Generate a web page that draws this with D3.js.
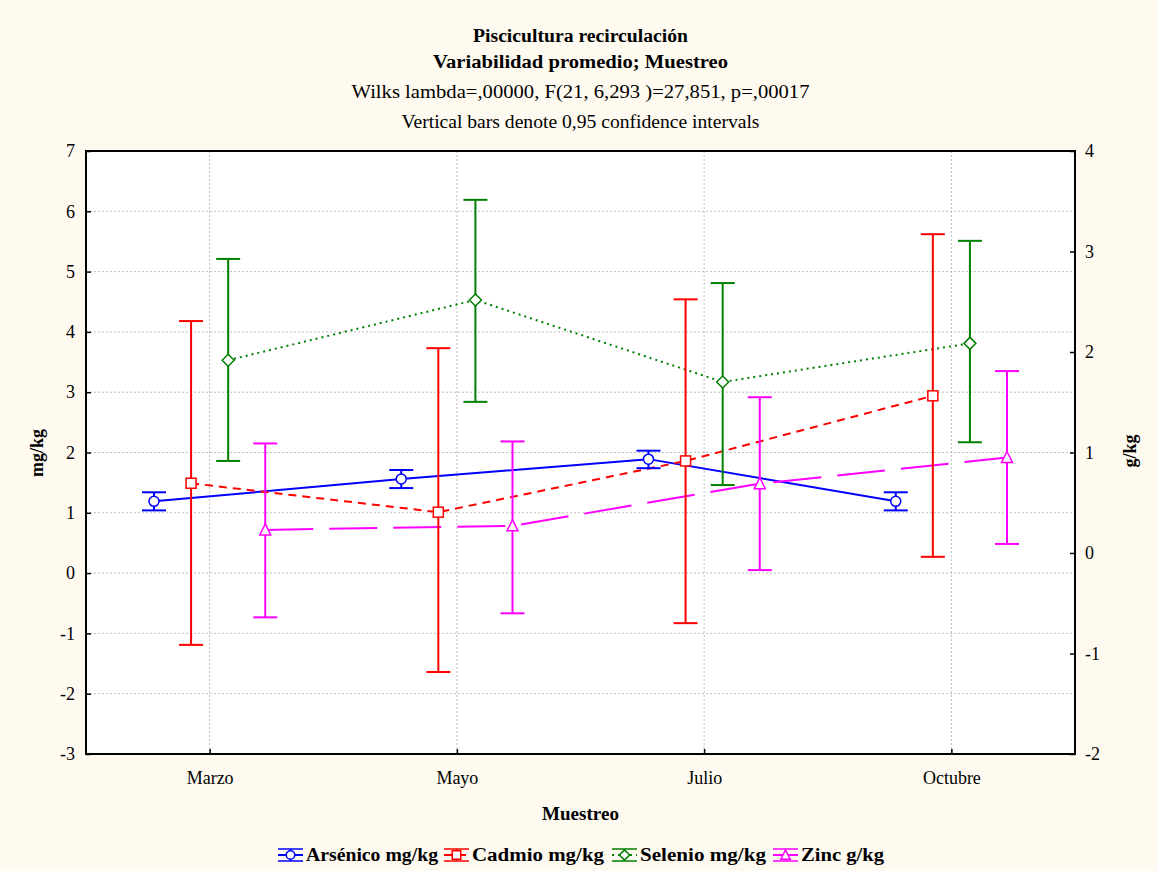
<!DOCTYPE html>
<html>
<head>
<meta charset="utf-8">
<script src="https://cdn.jsdelivr.net/npm/d3@7"></script>
<style>
  html, body { margin: 0; padding: 0; background: #FEFAF0; }
  svg { display: block; }
  text { font-family: "Liberation Serif", "Times New Roman", serif; fill: #000; }
</style>
</head>
<body>
<svg id="chart" width="1157" height="871"></svg>
<script>
// ---------------- DATA ----------------
const categories = ["Marzo", "Mayo", "Julio", "Octubre"];
const leftTicks = [-3, -2, -1, 0, 1, 2, 3, 4, 5, 6, 7];
const rightTicks = [-2, -1, 0, 1, 2, 3, 4];

const arsenicoMean = [1.19, 1.56, 1.89, 1.19];
const arsenicoLow  = [1.04, 1.41, 1.74, 1.04];
const arsenicoHigh = [1.34, 1.71, 2.03, 1.34];

const cadmioMean = [1.49, 1.01, 1.86, 2.94];
const cadmioLow  = [-1.19, -1.64, -0.83, 0.27];
const cadmioHigh = [4.18, 3.73, 4.54, 5.62];

const selenioMean = [3.53, 4.53, 3.17, 3.81];
const selenioLow  = [1.86, 2.84, 1.46, 2.17];
const selenioHigh = [5.21, 6.19, 4.81, 5.51];

const zincMean = [0.23, 0.27, 0.69, 0.95];
const zincLow  = [-0.64, -0.60, -0.17, 0.09];
const zincHigh = [1.09, 1.11, 1.55, 1.81];

const seriesNames = ["Arsénico mg/kg", "Cadmio mg/kg", "Selenio mg/kg", "Zinc g/kg"];

// ---------------- LAYOUT ----------------
const svg = d3.select("#chart");
const L = 86, R = 1075, T = 151, B = 754;
const colors = ["#0000FF", "#FF0000", "#008000", "#FF00FF"];
const dashes = [null, "8,6", "2,4", "48,16"];
const offsets = [-0.225, -0.075, 0.075, 0.225];

const x = d3.scalePoint().domain(categories).range([L, R]).padding(0.5);
const yL = d3.scaleLinear().domain([-3, 7]).range([B, T]);
const yR = d3.scaleLinear().domain([-2, 4]).range([B, T]);

const series = [
  { mean: arsenicoMean, low: arsenicoLow, high: arsenicoHigh, y: yL, sym: "circle" },
  { mean: cadmioMean, low: cadmioLow, high: cadmioHigh, y: yL, sym: "square" },
  { mean: selenioMean, low: selenioLow, high: selenioHigh, y: yL, sym: "diamond" },
  { mean: zincMean, low: zincLow, high: zincHigh, y: yR, sym: "triangle" }
];

// plot background
svg.append("rect").attr("x", L).attr("y", T).attr("width", R - L).attr("height", B - T)
  .attr("fill", "#FFFFFF");

// grid
const grid = svg.append("g").attr("stroke", "#BDBDBD").attr("stroke-width", 1)
  .attr("stroke-dasharray", "2,2");
grid.selectAll("line.h").data(leftTicks.filter(t => t > -3 && t < 7)).join("line")
  .attr("x1", L).attr("x2", R).attr("y1", d => yL(d)).attr("y2", d => yL(d));
grid.selectAll("line.v").data(categories).join("line")
  .attr("y1", T).attr("y2", B).attr("x1", d => x(d)).attr("x2", d => x(d));

// axes
const fontTick = 18;
const fmt = d => String(d);
const axL = svg.append("g").attr("transform", `translate(${L},0)`)
  .call(d3.axisLeft(yL).tickValues(leftTicks).tickFormat(fmt).tickSizeInner(-5).tickSizeOuter(0).tickPadding(11));
const axR = svg.append("g").attr("transform", `translate(${R},0)`)
  .call(d3.axisRight(yR).tickValues(rightTicks).tickFormat(fmt).tickSizeInner(-5).tickSizeOuter(0).tickPadding(10));
const axB = svg.append("g").attr("transform", `translate(0,${B})`)
  .call(d3.axisBottom(x).tickSizeInner(-5).tickSizeOuter(0).tickPadding(14));
[axL, axR, axB].forEach(a => {
  a.select(".domain").remove();
  a.selectAll(".tick line").attr("stroke", "#000").attr("stroke-width", 1.5);
  a.selectAll(".tick text").attr("font-family", "Liberation Serif").attr("font-size", fontTick).attr("fill", "#000");
});
axB.selectAll(".tick text").attr("dy", "0.9em");

// frame
svg.append("rect").attr("x", L).attr("y", T).attr("width", R - L).attr("height", B - T)
  .attr("fill", "none").attr("stroke", "#000").attr("stroke-width", 2);

// marker helper
function drawMarker(g, sym, cx, cy, color, scale) {
  scale = scale || 1;
  if (sym === "circle") {
    g.append("circle").attr("cx", cx).attr("cy", cy).attr("r", 5 * scale)
      .attr("fill", "#fff").attr("stroke", color).attr("stroke-width", 1.5);
  } else if (sym === "square") {
    g.append("rect").attr("x", cx - 5 * scale).attr("y", cy - 5 * scale)
      .attr("width", 10 * scale).attr("height", 10 * scale)
      .attr("fill", "#fff").attr("stroke", color).attr("stroke-width", 1.5);
  } else if (sym === "diamond") {
    g.append("path").attr("transform", `translate(${cx},${cy})`)
      .attr("d", `M0,${-6 * scale}L${6 * scale},0L0,${6 * scale}L${-6 * scale},0Z`)
      .attr("fill", "#fff").attr("stroke", color).attr("stroke-width", 1.5);
  } else {
    g.append("path").attr("transform", `translate(${cx},${cy})`)
      .attr("d", `M0,${-6 * scale}L${5.5 * scale},${5 * scale}L${-5.5 * scale},${5 * scale}Z`)
      .attr("fill", "#fff").attr("stroke", color).attr("stroke-width", 1.5);
  }
}

// series
const capW = 12;
series.forEach((s, i) => {
  const g = svg.append("g");
  const px = c => x(c) + offsets[i] * x.step();
  const line = d3.line().x((d, k) => px(categories[k])).y(d => s.y(d));
  g.append("path").datum(s.mean).attr("d", line).attr("fill", "none")
    .attr("stroke", colors[i]).attr("stroke-width", 2)
    .attr("stroke-dasharray", dashes[i]);
});
series.forEach((s, i) => {
  const g = svg.append("g").attr("stroke", colors[i]).attr("stroke-width", 2);
  const px = c => x(c) + offsets[i] * x.step();
  categories.forEach((c, k) => {
    const cx = px(c);
    g.append("line").attr("x1", cx).attr("x2", cx).attr("y1", s.y(s.low[k])).attr("y2", s.y(s.high[k]));
    g.append("line").attr("x1", cx - capW).attr("x2", cx + capW).attr("y1", s.y(s.low[k])).attr("y2", s.y(s.low[k]));
    g.append("line").attr("x1", cx - capW).attr("x2", cx + capW).attr("y1", s.y(s.high[k])).attr("y2", s.y(s.high[k]));
  });
});
series.forEach((s, i) => {
  const g = svg.append("g");
  const px = c => x(c) + offsets[i] * x.step();
  categories.forEach((c, k) => drawMarker(g, s.sym, px(c), s.y(s.mean[k]), colors[i]));
});

// titles
const cxT = (L + R) / 2;
function txt(str, xx, yy, size, bold, len) {
  const t = svg.append("text").attr("x", xx).attr("y", yy).attr("text-anchor", "middle")
    .attr("font-size", size).attr("font-weight", bold ? "bold" : "normal").text(str);
  if (len) t.attr("textLength", len).attr("lengthAdjust", "spacingAndGlyphs");
  return t;
}
txt("Piscicultura recirculación", cxT, 42, 18, true, 215);
txt("Variabilidad promedio; Muestreo", cxT, 68, 18, true, 295);
txt("Wilks lambda=,00000, F(21, 6,293 )=27,851, p=,00017", cxT, 98, 18, false, 458);
txt("Vertical bars denote 0,95 confidence intervals", cxT, 128, 18, false, 358);

// axis titles
txt("Muestreo", cxT, 820, 18, true, 77);
svg.append("text").attr("transform", "translate(43,453) rotate(-90)").attr("text-anchor", "middle")
  .attr("font-size", 18).attr("font-weight", "bold").text("mg/kg");
svg.append("text").attr("transform", "translate(1136,451) rotate(-90)").attr("text-anchor", "middle")
  .attr("font-size", 18).attr("font-weight", "bold").text("g/kg");

// legend
const legendX = [278, 444, 612, 773];
const legendW = [132, 132, 126, 83];
const ly = 855;
seriesNames.forEach((name, i) => {
  const g = svg.append("g");
  const x0 = legendX[i], x1 = x0 + 25, mx = (x0 + x1) / 2;
  g.append("line").attr("x1", x0).attr("x2", x1).attr("y1", ly).attr("y2", ly)
    .attr("stroke", colors[i]).attr("stroke-width", 2).attr("stroke-dasharray", i === 3 ? "12,3" : dashes[i]);
  g.append("line").attr("x1", x0).attr("x2", x1).attr("y1", ly - 6).attr("y2", ly - 6)
    .attr("stroke", colors[i]).attr("stroke-width", 1.5);
  g.append("line").attr("x1", x0).attr("x2", x1).attr("y1", ly + 6).attr("y2", ly + 6)
    .attr("stroke", colors[i]).attr("stroke-width", 1.5);
  g.append("line").attr("x1", mx).attr("x2", mx).attr("y1", ly - 6).attr("y2", ly + 6)
    .attr("stroke", colors[i]).attr("stroke-width", 1.5);
  drawMarker(g, series[i].sym, mx, ly, colors[i], 0.85);
  g.append("text").attr("x", x1 + 3).attr("y", ly + 6).attr("font-size", 18)
    .attr("font-weight", "bold").attr("textLength", legendW[i]).attr("lengthAdjust", "spacingAndGlyphs")
    .text(name);
});
</script>
</body>
</html>
